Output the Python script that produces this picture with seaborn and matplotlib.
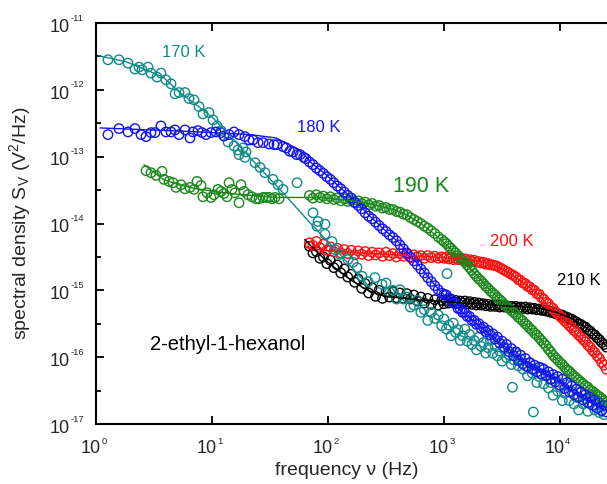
import numpy as np
import pandas as pd
import matplotlib
matplotlib.use("Agg")
import matplotlib.pyplot as plt
import seaborn as sns
from matplotlib.ticker import FixedLocator, NullLocator, NullFormatter
from matplotlib.transforms import blended_transform_factory, offset_copy

# ---------------- data (log10 values) ----------------
# shared analyser frequency grids, log10(f / Hz)
lf_mid = [1.84, 1.87, 1.90, 1.93, 1.96, 1.99, 2.02, 2.05, 2.08, 2.11, 2.14, 2.17, 2.20,
          2.23, 2.26, 2.29, 2.32, 2.35, 2.38, 2.41, 2.44, 2.47, 2.50, 2.53, 2.56, 2.59,
          2.62, 2.65, 2.68, 2.71, 2.74, 2.77, 2.80, 2.83, 2.86, 2.89, 2.92, 2.95, 2.98]
lf_hi = [3.00, 3.02, 3.04, 3.06, 3.08, 3.10, 3.12, 3.14, 3.16, 3.18, 3.20, 3.22, 3.24,
         3.26, 3.28, 3.30, 3.32, 3.34, 3.36, 3.38, 3.40, 3.42, 3.44, 3.46, 3.48, 3.50,
         3.52, 3.54, 3.56, 3.58, 3.60, 3.62, 3.64, 3.66, 3.68, 3.70, 3.72, 3.74, 3.76,
         3.78, 3.80, 3.82, 3.84, 3.86, 3.88, 3.90, 3.92, 3.94, 3.96, 3.98, 4.00, 4.02,
         4.04, 4.06, 4.08, 4.10, 4.12, 4.14, 4.16, 4.18, 4.20, 4.22, 4.24, 4.26, 4.28,
         4.30, 4.32, 4.34, 4.36, 4.38, 4.40]

# 170 K
lf_170_lo = [0.103, 0.198, 0.276, 0.336, 0.371, 0.397, 0.448, 0.474, 0.526, 0.560, 0.603,
             0.647, 0.681, 0.716, 0.767, 0.802, 0.845, 0.888, 0.922, 0.974, 1.009, 1.043,
             1.078, 1.103, 1.138, 1.190, 1.224, 1.267, 1.293, 1.233, 1.284, 1.371, 1.414,
             1.457, 1.526, 1.569, 1.612, 1.733, 1.871, 1.914, 1.905, 1.974, 1.974, 2.034,
             2.060, 2.103, 2.172, 2.216, 2.250, 2.293, 2.345, 2.405, 2.466, 3.026, 3.59, 3.77]
ls_170_lo = [-11.55, -11.55, -11.60, -11.69, -11.66, -11.70, -11.66, -11.75, -11.81, -11.75,
             -11.85, -11.91, -12.06, -12.04, -12.04, -12.13, -12.15, -12.25, -12.36, -12.34,
             -12.45, -12.54, -12.61, -12.69, -12.78, -12.84, -12.90, -12.87, -12.93, -12.97,
             -13.01, -13.09, -13.16, -13.24, -13.34, -13.42, -13.49, -13.39, -13.84, -13.97,
             -14.04, -14.01, -14.16, -14.27, -14.39, -14.46, -14.54, -14.58, -14.66, -14.79,
             -14.87, -14.81, -14.91, -14.75, -16.45, -16.82]
ls_170_mid = [-14.89, -15.03, -15.00, -15.13, -14.99, -15.13, -15.10, -15.25, -15.22, -15.15,
              -15.33, -15.29, -15.45, -15.33, -15.42, -15.37, -15.53]
ls_170_hi = [-15.43, -15.58, -15.52, -15.68, -15.49, -15.63, -15.59, -15.75, -15.68, -15.58,
             -15.76, -15.66, -15.81, -15.75, -15.89, -15.70, -15.84, -15.78, -15.94, -15.86,
             -15.75, -15.94, -15.83, -15.98, -15.91, -16.06, -15.87, -16.01, -15.96, -16.11,
             -16.04, -15.94, -16.13, -16.03, -16.18, -16.13, -16.28, -16.09, -16.24, -16.19,
             -16.38, -16.29, -16.16, -16.40, -16.27, -16.46, -16.38, -16.57, -16.33, -16.51,
             -16.45, -16.65, -16.54, -16.41, -16.65, -16.51, -16.70, -16.60, -16.79, -16.53,
             -16.70, -16.62, -16.81, -16.70, -16.57, -16.79, -16.65, -16.83, -16.73, -16.86,
             -16.68]

# 180 K
lf_180_lo = [0.103, 0.198, 0.276, 0.336, 0.388, 0.431, 0.474, 0.509, 0.560, 0.603, 0.647,
             0.681, 0.716, 0.767, 0.810, 0.836, 0.879, 0.914, 0.948, 0.991, 1.034, 1.078,
             1.103, 1.147, 1.190, 1.233, 1.284, 1.319, 1.353, 1.397, 1.440, 1.491, 1.534,
             1.560, 1.612, 1.64, 1.67, 1.70, 1.73, 1.76, 1.79, 1.81]
ls_180_lo = [-12.67, -12.58, -12.63, -12.58, -12.67, -12.70, -12.64, -12.64, -12.54, -12.63,
             -12.63, -12.60, -12.67, -12.60, -12.72, -12.63, -12.61, -12.64, -12.67, -12.64,
             -12.63, -12.64, -12.69, -12.67, -12.63, -12.67, -12.70, -12.75, -12.75, -12.79,
             -12.79, -12.81, -12.82, -12.82, -12.85, -12.87, -12.92, -12.93, -12.97, -12.97,
             -13.01, -13.03]
ls_180_mid = [-13.08, -13.12, -13.17, -13.21, -13.25, -13.30, -13.34, -13.39, -13.44, -13.48,
              -13.53, -13.58, -13.62, -13.68, -13.73, -13.78, -13.84, -13.89, -13.93, -13.98,
              -14.03, -14.08, -14.12, -14.17, -14.21, -14.26, -14.32, -14.38, -14.44, -14.50,
              -14.56, -14.62, -14.68, -14.74, -14.81, -14.87, -14.93, -14.99, -15.04]
ls_180_hi = [-15.06, -15.07, -15.12, -15.13, -15.19, -15.20, -15.27, -15.28, -15.33, -15.33,
             -15.39, -15.39, -15.45, -15.45, -15.51, -15.50, -15.57, -15.55, -15.62, -15.60,
             -15.67, -15.65, -15.73, -15.70, -15.79, -15.76, -15.85, -15.81, -15.92, -15.87,
             -15.98, -15.92, -16.05, -15.97, -16.10, -16.02, -16.14, -16.08, -16.18, -16.12,
             -16.22, -16.15, -16.25, -16.18, -16.28, -16.22, -16.33, -16.26, -16.37, -16.29,
             -16.42, -16.33, -16.47, -16.38, -16.52, -16.43, -16.56, -16.48, -16.60, -16.52,
             -16.64, -16.56, -16.68, -16.60, -16.72, -16.64, -16.76, -16.68, -16.80, -16.72,
             -16.82]

# 190 K
lf_190_lo = [0.431, 0.474, 0.517, 0.569, 0.586, 0.629, 0.664, 0.690, 0.733, 0.767, 0.810,
             0.845, 0.871, 0.905, 0.922, 0.957, 0.991, 1.017, 1.052, 1.078, 1.103, 1.129,
             1.147, 1.172, 1.198, 1.233, 1.250, 1.276, 1.310, 1.345, 1.379, 1.405, 1.440,
             1.466, 1.491, 1.517, 1.543, 1.578]
ls_190_lo = [-13.21, -13.24, -13.28, -13.22, -13.34, -13.37, -13.39, -13.46, -13.42, -13.48,
             -13.46, -13.49, -13.37, -13.43, -13.60, -13.54, -13.61, -13.57, -13.49, -13.52,
             -13.55, -13.60, -13.39, -13.49, -13.54, -13.69, -13.42, -13.52, -13.57, -13.60,
             -13.63, -13.63, -13.61, -13.61, -13.61, -13.63, -13.61, -13.63]
ls_190_mid = [-13.58, -13.62, -13.57, -13.61, -13.59, -13.63, -13.60, -13.64, -13.62, -13.66,
              -13.63, -13.67, -13.65, -13.69, -13.66, -13.70, -13.68, -13.72, -13.70, -13.74,
              -13.73, -13.77, -13.76, -13.79, -13.79, -13.82, -13.83, -13.86, -13.87, -13.91,
              -13.94, -13.97, -14.00, -14.04, -14.07, -14.11, -14.15, -14.20, -14.24]
ls_190_hi = [-14.27, -14.30, -14.34, -14.37, -14.41, -14.44, -14.48, -14.51, -14.55, -14.58,
             -14.62, -14.66, -14.70, -14.75, -14.79, -14.83, -14.86, -14.90, -14.94, -14.97,
             -15.01, -15.04, -15.07, -15.11, -15.14, -15.17, -15.21, -15.24, -15.27, -15.30,
             -15.33, -15.36, -15.40, -15.43, -15.46, -15.50, -15.53, -15.57, -15.60, -15.64,
             -15.67, -15.71, -15.75, -15.79, -15.83, -15.88, -15.92, -15.97, -16.01, -16.04,
             -16.08, -16.11, -16.15, -16.19, -16.21, -16.25, -16.28, -16.31, -16.34, -16.37,
             -16.40, -16.43, -16.45, -16.49, -16.51, -16.54, -16.57, -16.59, -16.62, -16.65,
             -16.68]

# 200 K
ls_200_mid = [-14.29, -14.33, -14.27, -14.36, -14.31, -14.40, -14.35, -14.42, -14.37, -14.44,
              -14.39, -14.45, -14.40, -14.47, -14.41, -14.46, -14.42, -14.48, -14.43, -14.47,
              -14.44, -14.49, -14.43, -14.48, -14.45, -14.50, -14.45, -14.49, -14.46, -14.51,
              -14.47, -14.50, -14.48, -14.52, -14.48, -14.51, -14.49, -14.52, -14.50]
ls_200_hi = [-14.52, -14.50, -14.53, -14.51, -14.54, -14.52, -14.54, -14.53, -14.55, -14.53,
             -14.56, -14.54, -14.57, -14.55, -14.58, -14.57, -14.59, -14.58, -14.61, -14.60,
             -14.62, -14.62, -14.63, -14.64, -14.66, -14.68, -14.70, -14.72, -14.74, -14.76,
             -14.78, -14.80, -14.84, -14.85, -14.89, -14.90, -14.94, -14.95, -14.99, -15.00,
             -15.05, -15.06, -15.11, -15.13, -15.18, -15.20, -15.25, -15.27, -15.32, -15.35,
             -15.39, -15.42, -15.46, -15.49, -15.53, -15.56, -15.60, -15.63, -15.67, -15.70,
             -15.74, -15.77, -15.82, -15.85, -15.90, -15.93, -15.98, -16.02, -16.08, -16.12,
             -16.18]

# 210 K
ls_210_mid = [-14.34, -14.44, -14.42, -14.52, -14.50, -14.60, -14.55, -14.66, -14.62, -14.74,
              -14.68, -14.80, -14.76, -14.88, -14.83, -14.97, -14.90, -15.04, -14.96, -15.09,
              -15.00, -15.12, -15.03, -15.10, -15.02, -15.11, -15.04, -15.12, -15.05, -15.13,
              -15.07, -15.16, -15.10, -15.19, -15.12, -15.21, -15.14, -15.22, -15.15]
ls_210_hi = [-15.20, -15.15, -15.19, -15.14, -15.18, -15.15, -15.19, -15.16, -15.19, -15.16,
             -15.20, -15.17, -15.21, -15.18, -15.22, -15.19, -15.22, -15.20, -15.23, -15.21,
             -15.24, -15.22, -15.24, -15.22, -15.25, -15.23, -15.25, -15.23, -15.26, -15.24,
             -15.26, -15.24, -15.27, -15.25, -15.27, -15.25, -15.28, -15.26, -15.28, -15.27,
             -15.29, -15.28, -15.30, -15.29, -15.31, -15.31, -15.33, -15.32, -15.35, -15.35,
             -15.37, -15.37, -15.40, -15.40, -15.43, -15.43, -15.46, -15.47, -15.50, -15.51,
             -15.54, -15.55, -15.59, -15.61, -15.65, -15.67, -15.71, -15.74, -15.78, -15.81,
             -15.85]

# fitted curves (log10 f, log10 S)
fit_170_lf = [0.026, 0.259, 0.431, 0.578, 0.716, 0.862, 1.009, 1.147, 1.319, 1.612, 1.845, 2.103, 2.362]
fit_170_ls = [-11.49, -11.58, -11.70, -11.81, -12.03, -12.22, -12.42, -12.67, -13.00, -13.54, -13.99, -14.46, -14.96]
fit_180_lf = [0.034, 0.466, 0.897, 1.328, 1.552, 1.759, 1.86, 1.97, 2.09, 2.22, 2.35, 2.47, 2.62,
              2.73, 2.82, 2.90, 2.99, 3.14, 3.31, 3.48, 3.66, 3.83, 3.97, 4.11, 4.26, 4.40]
fit_180_ls = [-12.57, -12.60, -12.63, -12.67, -12.72, -12.90, -13.10, -13.25, -13.44, -13.64, -13.87,
              -14.07, -14.30, -14.52, -14.70, -14.88, -15.05, -15.30, -15.54, -15.78, -16.03, -16.21,
              -16.33, -16.52, -16.66, -16.80]
fit_190_lf = [0.414, 0.578, 0.716, 0.862, 1.147, 1.552, 1.931, 2.20, 2.36, 2.47, 2.56, 2.68, 2.80,
              2.94, 3.03, 3.20, 3.37, 3.57, 3.83, 3.94, 4.06, 4.17, 4.28, 4.40]
fit_190_ls = [-13.12, -13.34, -13.42, -13.48, -13.55, -13.61, -13.61, -13.66, -13.70, -13.75, -13.79,
              -13.87, -14.00, -14.19, -14.33, -14.62, -14.95, -15.28, -15.73, -15.97, -16.19, -16.36,
              -16.51, -16.68]
fit_200_lf = [1.81, 1.95, 2.20, 2.60, 3.00, 3.20, 3.34, 3.48, 3.63, 3.74, 3.83, 3.91, 4.03, 4.15, 4.26, 4.37, 4.41]
fit_200_ls = [-14.36, -14.40, -14.43, -14.47, -14.51, -14.54, -14.58, -14.66, -14.82, -14.96, -15.09,
              -15.25, -15.46, -15.67, -15.86, -16.10, -16.18]
fit_210_lf = [1.80, 1.90, 2.00, 2.10, 2.20, 2.30, 2.40, 2.50, 2.70, 2.90, 3.20, 3.50, 3.70, 3.85,
              3.97, 4.11, 4.23, 4.34, 4.41]
fit_210_ls = [-14.24, -14.42, -14.58, -14.72, -14.85, -14.96, -15.04, -15.09, -15.13, -15.16, -15.19,
              -15.23, -15.25, -15.28, -15.33, -15.43, -15.56, -15.74, -15.85]

labels = ["170 K", "180 K", "190 K", "200 K", "210 K"]
colors = ["#108a8a", "#1414f0", "#1a881a", "#ff1010", "#000000"]
x_tick_exps = [0, 1, 2, 3, 4]
y_tick_exps = [-17, -16, -15, -14, -13, -12, -11]

# ---------------- styling ----------------
sns.set_style("ticks")
plt.rcParams.update({
    "font.family": ["Liberation Sans", "DejaVu Sans"],
    "mathtext.fontset": "custom",
    "mathtext.rm": "Liberation Sans",
    "mathtext.it": "Liberation Sans:italic",
    "mathtext.bf": "Liberation Sans:bold",
    "mathtext.default": "regular",
    "axes.unicode_minus": False,
})

fig = plt.figure(figsize=(6.07, 4.84), dpi=100)
ax = fig.add_axes([96 / 607, 1 - 424 / 484, (607 - 96) / 607, (424 - 23) / 484])
ax.set_xscale("log")
ax.set_yscale("log")


def frame(lf, ls):
    return pd.DataFrame({"f": 10.0 ** np.asarray(lf, float), "S": 10.0 ** np.asarray(ls, float)})


def points(lf, ls, color, z):
    sns.scatterplot(data=frame(lf, ls), x="f", y="S", ax=ax, marker="o", s=46,
                    color=color, linewidth=1.0, zorder=z, legend=False)
    coll = ax.collections[-1]
    coll.set_facecolor("none")
    coll.set_edgecolor(color)


def curve(lf, ls, color):
    sns.lineplot(data=frame(lf, ls), x="f", y="S", ax=ax, color=color, linewidth=1.0,
                 sort=False, estimator=None, zorder=10, legend=False)


c170, c180, c190, c200, c210 = colors
points(lf_mid + lf_hi, ls_210_mid + ls_210_hi, c210, 2)
points(lf_mid + lf_hi, ls_200_mid + ls_200_hi, c200, 3)
points(lf_170_lo + lf_mid[22:] + lf_hi, ls_170_lo + ls_170_mid + ls_170_hi, c170, 4)
points(lf_190_lo + lf_mid + lf_hi, ls_190_lo + ls_190_mid + ls_190_hi, c190, 5)
points(lf_180_lo + lf_mid + lf_hi, ls_180_lo + ls_180_mid + ls_180_hi, c180, 6)

curve(fit_170_lf, fit_170_ls, c170)
curve(fit_180_lf, fit_180_ls, c180)
curve(fit_190_lf, fit_190_ls, c190)
curve(fit_200_lf, fit_200_ls, c200)
curve(fit_210_lf, fit_210_ls, c210)

# annotations
ax.text(3.7, 3.56e-12, labels[0], color=c170, fontsize=12, ha="left", va="center")
ax.text(54, 2.7e-13, labels[1], color=c180, fontsize=12, ha="left", va="center")
ax.text(363, 3.56e-14, labels[2], color=c190, fontsize=15.5, ha="left", va="center")
ax.text(2.5e3, 5.4e-15, labels[3], color=c200, fontsize=12, ha="left", va="center")
ax.text(9.4e3, 1.41e-15, labels[4], color=c210, fontsize=12, ha="left", va="center")
ax.text(2.92, 1.56e-16, "2-ethyl-1-hexanol", color="black", fontsize=14.5, ha="left", va="center")

# axes
ax.set_xlim(1, 10 ** 4.405)
ax.set_ylim(1e-17, 1e-11)
ax.xaxis.set_major_locator(FixedLocator([10.0 ** k for k in x_tick_exps]))
ax.xaxis.set_minor_locator(NullLocator())
ax.yaxis.set_major_locator(FixedLocator([10.0 ** k for k in y_tick_exps]))
ax.yaxis.set_minor_locator(FixedLocator([10.0 ** (k + 0.5) for k in y_tick_exps[:-1]]))
ax.yaxis.set_minor_formatter(NullFormatter())

for side in ["left", "bottom", "top"]:
    ax.spines[side].set_linewidth(1.5)
    ax.spines[side].set_color("black")
ax.spines["right"].set_visible(False)

ax.tick_params(which="both", direction="in", top=True, right=False, width=1.3, colors="black",
               labelleft=False, labelbottom=False)
ax.tick_params(which="major", length=6)
ax.tick_params(which="minor", length=3.5)

# tick labels "10" with small superscript exponents (Origin style)
base_fs, exp_fs = 13, 6.8
ytr = blended_transform_factory(ax.transAxes, ax.transData)
xtr = blended_transform_factory(ax.transData, ax.transAxes)
for k in y_tick_exps:
    ax.text(0, 10.0 ** k, "10", fontsize=base_fs, ha="right", va="baseline", clip_on=False,
            transform=offset_copy(ytr, fig=fig, x=-18.6, y=-6.3, units="points"))
    ax.text(0, 10.0 ** k, str(k), fontsize=exp_fs, ha="left", va="baseline", clip_on=False,
            transform=offset_copy(ytr, fig=fig, x=-18.2, y=1.7, units="points"))
for k in x_tick_exps:
    ax.text(10.0 ** k, 0, "10", fontsize=base_fs, ha="right", va="baseline", clip_on=False,
            transform=offset_copy(xtr, fig=fig, x=3.2, y=-20.8, units="points"))
    ax.text(10.0 ** k, 0, str(k), fontsize=exp_fs, ha="left", va="baseline", clip_on=False,
            transform=offset_copy(xtr, fig=fig, x=3.8, y=-14.2, units="points"))

ax.set_xlabel("frequency \u03bd (Hz)", fontsize=14)
ax.set_ylabel("spectral density S$_\\mathregular{V}$ (V$^\\mathregular{2}$/Hz)", fontsize=14)
ax.xaxis.set_label_coords((347 - 96) / 511, (424 - 462) / 401)
ax.yaxis.set_label_coords((33 - 96) / 511, 0.5)

fig.savefig("out.png", dpi=100)
